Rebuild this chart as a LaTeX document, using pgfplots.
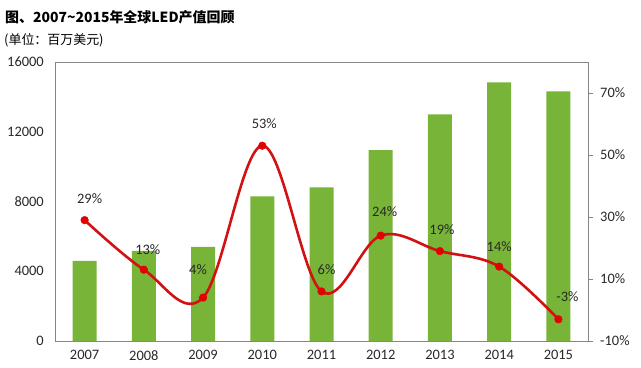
\documentclass[border=0pt]{standalone}
\usepackage{pgfplots}
\pgfplotsset{compat=1.18}
\usepackage{fontspec}
\setmainfont{Carlito}
\newfontfamily\cjk{Noto Sans CJK SC}
\definecolor{bargreen}{RGB}{120,180,55}
\definecolor{linered}{RGB}{210,18,18}
\definecolor{axgray}{RGB}{134,134,134}
\definecolor{lbl}{RGB}{40,40,40}
\begin{document}
\begin{tikzpicture}[x=1bp,y=1bp]
\useasboundingbox (0,0) rectangle (641,367);
\node[anchor=west, inner sep=0] at (5,350) {\fontsize{14}{16}\selectfont\cjk\bfseries 图、2007\textasciitilde 2015年全球LED产值回顾};
\node[anchor=west, inner sep=0] at (4,327) {\fontsize{13}{15}\selectfont\cjk (单位：百万美元)};
\begin{axis}[
  at={(55bp,26bp)}, anchor=south west, scale only axis,
  width=533bp, height=279bp,
  xmin=-0.5, xmax=8.5, ymin=0, ymax=16000,
  scaled y ticks=false,
  xtick={0,...,8},
  xticklabels={2007,2008,2009,2010,2011,2012,2013,2014,2015},
  ytick={0,4000,8000,12000,16000},
  yticklabels={0,4000,8000,12000,16000},
  axis line style={axgray},
  major tick length=0,
  tick label style={font=\fontsize{14.5}{16}\selectfont, text=lbl},
  yticklabel style={inner sep=0pt, anchor=east, xshift=-11bp},
  xticklabel style={inner sep=0pt, anchor=north, yshift=-9bp},
]
\addplot[ybar, bar width=24bp, fill=bargreen, draw=none] coordinates {
(0,4600) (1,5175) (2,5405) (3,8300) (4,8815) (5,10945) (6,13000) (7,14835) (8,14320)};
\end{axis}
\begin{axis}[
  at={(55bp,26bp)}, anchor=south west, scale only axis,
  width=533bp, height=279bp,
  xmin=-0.5, xmax=8.5, ymin=-10, ymax=80,
  axis x line=none, axis y line*=right,
  ytick={-10,10,30,50,70},
  yticklabels={-10\%,10\%,30\%,50\%,70\%},
  axis line style={axgray, -},
  tick style={axgray},
  tick align=outside, major tick length=5bp,
  tick label style={font=\fontsize{14.5}{16}\selectfont, text=lbl},
  yticklabel style={inner sep=0pt, anchor=west, xshift=7bp},
]
\addplot[linered, line width=2.6bp, smooth, tension=0.6, mark=*, mark size=3.8bp, mark options={fill=red!90!black, draw=red!90!black, line width=0.5bp}] coordinates {
(0,29) (1,13) (2,4) (3,53) (4,6) (5,24) (6,19) (7,14) (8,-3)};
\begin{scope}[every node/.style={font=\fontsize{14.5}{16}\selectfont, text=lbl}]
\node[xshift=5bp, yshift=21bp] at (axis cs:0,29) {29\%};
\node[xshift=4bp, yshift=20bp] at (axis cs:1,13) {13\%};
\node[xshift=-5bp, yshift=28bp] at (axis cs:2,4) {4\%};
\node[xshift=2bp, yshift=22bp] at (axis cs:3,53) {53\%};
\node[xshift=5bp, yshift=22bp] at (axis cs:4,6) {6\%};
\node[xshift=4bp, yshift=24bp] at (axis cs:5,24) {24\%};
\node[xshift=2bp, yshift=21bp] at (axis cs:6,19) {19\%};
\node[xshift=0bp, yshift=20bp] at (axis cs:7,14) {14\%};
\node[xshift=9bp, yshift=23bp] at (axis cs:8,-3) {-3\%};
\end{scope}
\end{axis}
\end{tikzpicture}
\end{document}
